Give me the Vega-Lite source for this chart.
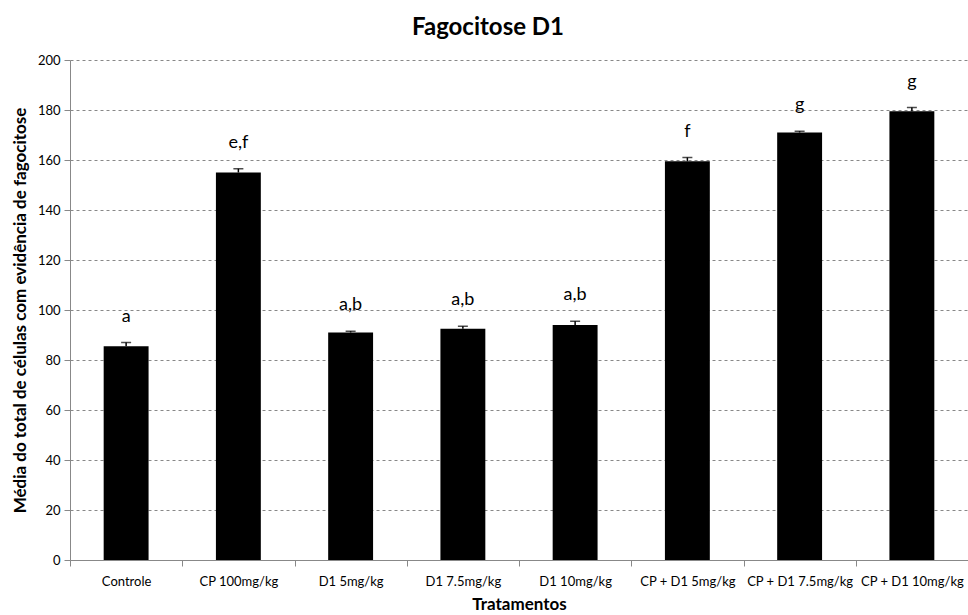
{
  "$schema": "https://vega.github.io/schema/vega-lite/v6.json",
  "width": 898,
  "height": 500,
  "autosize": {"type": "none"},
  "padding": {"left": 70, "top": 60, "right": 0, "bottom": 55},
  "background": "white",
  "title": {
    "text": "Fagocitose D1",
    "font": "Lato",
    "fontSize": 24,
    "fontWeight": "bold",
    "color": "#000000",
    "anchor": "middle",
    "offset": 14,
    "dx": -31
  },
  "config": {
    "font": "Lato",
    "view": {"stroke": null}
  },
  "data": {
    "values": [
      {"tratamento": "Controle", "media": 85.5, "erro": 1.5, "letra": "a"},
      {"tratamento": "CP 100mg/kg", "media": 155, "erro": 1.5, "letra": "e,f"},
      {"tratamento": "D1 5mg/kg", "media": 91, "erro": 0.5, "letra": "a,b"},
      {"tratamento": "D1 7.5mg/kg", "media": 92.5, "erro": 1, "letra": "a,b"},
      {"tratamento": "D1 10mg/kg", "media": 94, "erro": 1.5, "letra": "a,b"},
      {"tratamento": "CP + D1 5mg/kg", "media": 159.5, "erro": 1.5, "letra": "f"},
      {"tratamento": "CP + D1 7.5mg/kg", "media": 171, "erro": 0.5, "letra": "g"},
      {"tratamento": "CP + D1 10mg/kg", "media": 179.5, "erro": 1.5, "letra": "g"}
    ]
  },
  "transform": [{"calculate": "datum.media + datum.erro", "as": "superior"}],
  "encoding": {
    "x": {
      "field": "tratamento",
      "type": "nominal",
      "sort": null,
      "scale": {"paddingInner": 0, "paddingOuter": 0},
      "axis": {
        "title": "Tratamentos",
        "titleFont": "Lato",
        "titleFontSize": 17,
        "titleFontWeight": "bold",
        "titleColor": "#000000",
        "titlePadding": 8,
        "labelAngle": 0,
        "labelFontSize": 13,
        "labelColor": "#000000",
        "labelPadding": 9,
        "tickBand": "extent",
        "tickSize": 6,
        "tickColor": "#888888",
        "domainColor": "#888888",
        "grid": false
      }
    }
  },
  "layer": [
    {
      "mark": {"type": "bar", "color": "#000000", "width": {"band": 0.4}},
      "encoding": {
        "y": {
          "field": "media",
          "type": "quantitative",
          "scale": {"domain": [0, 200], "nice": false},
          "axis": {
            "title": "Média do total de células com evidência de fagocitose",
            "titleFont": "Lato",
            "titleFontSize": 17,
            "titleFontWeight": "bold",
            "titleColor": "#000000",
            "titlePadding": 8,
            "values": [0, 20, 40, 60, 80, 100, 120, 140, 160, 180, 200],
            "labelFontSize": 13,
            "labelColor": "#000000",
            "labelPadding": 4,
            "tickSize": 6,
            "tickColor": "#888888",
            "domainColor": "#888888",
            "grid": true,
            "gridColor": "#888888",
            "gridDash": [3, 3],
            "gridWidth": 1
          }
        }
      }
    },
    {
      "mark": {"type": "rule", "color": "#000000", "strokeWidth": 1.5},
      "encoding": {
        "y": {"field": "media", "type": "quantitative"},
        "y2": {"field": "superior"}
      }
    },
    {
      "mark": {"type": "tick", "color": "#000000", "size": 10, "thickness": 1.5},
      "encoding": {
        "y": {"field": "superior", "type": "quantitative"}
      }
    },
    {
      "mark": {"type": "text", "fontSize": 18, "color": "#000000", "baseline": "alphabetic", "dy": -21},
      "encoding": {
        "y": {"field": "superior", "type": "quantitative"},
        "text": {"field": "letra"}
      }
    }
  ]
}
